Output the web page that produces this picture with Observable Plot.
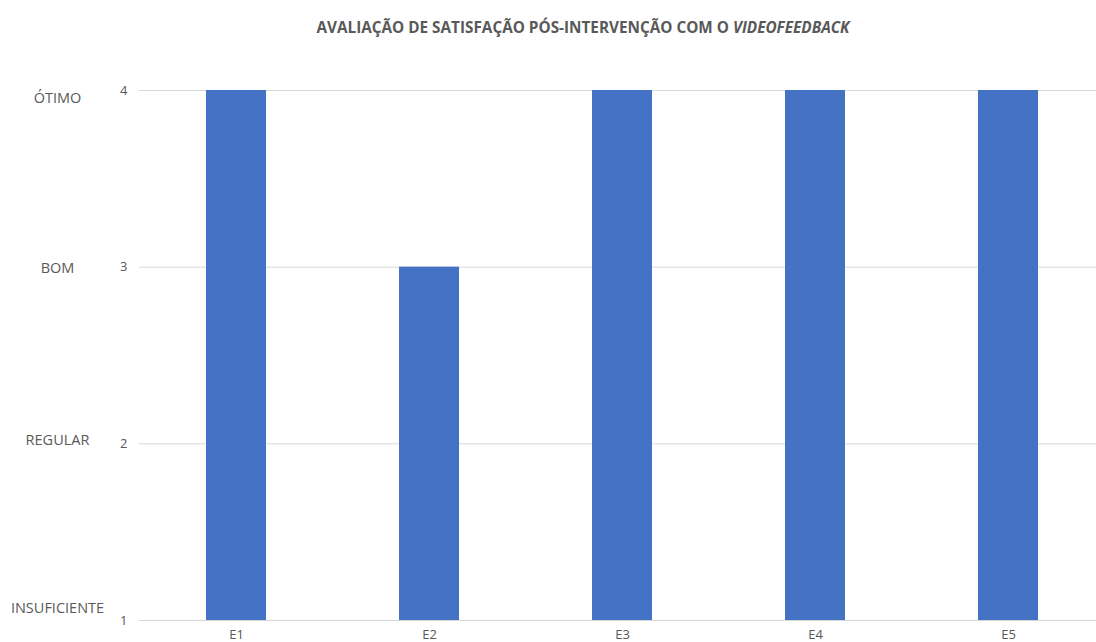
<!DOCTYPE html>
<html>
<head>
<meta charset="utf-8">
<script src="https://cdn.jsdelivr.net/npm/d3@7"></script>
<script src="https://cdn.jsdelivr.net/npm/@observablehq/plot@0.6"></script>
<style>
  html, body { margin: 0; padding: 0; background: #fff; overflow: hidden; }
  #title { height: 50px; box-sizing: border-box; padding-top: 17px; padding-left: 70px; text-align: center;
           font-family: "Open Sans", sans-serif; font-weight: 700; font-size: 15.3px; color: #595959; line-height: 20px; }
  #chart svg { display: block; overflow: visible; }
</style>
</head>
<body>
<div id="title">AVALIAÇÃO DE SATISFAÇÃO PÓS-INTERVENÇÃO COM O <i>VIDEOFEEDBACK</i></div>
<div id="chart"></div>
<script>
const categories = ["E1", "E2", "E3", "E4", "E5"];
const scores = [4, 3, 4, 4, 4];
const levelValues = [1, 2, 3, 4];
const levelNames = ["INSUFICIENTE", "REGULAR", "BOM", "ÓTIMO"];
const levelNameShift = [-12, -3, 1, 8];

const data = categories.map((c, i) => ({cat: c, score: scores[i]}));
const levels = levelValues.map((v, i) => ({v, name: levelNames[i], shift: levelNameShift[i]}));

const grey = "#595959";
const chart = Plot.plot({
  width: 1096,
  height: 592,
  marginTop: 40,
  marginBottom: 22,
  marginLeft: 139,
  marginRight: -9,
  style: {fontFamily: "'Open Sans', sans-serif", fontSize: "13px", color: grey, background: "#fff"},
  x: {domain: categories, paddingInner: 0.69, paddingOuter: 0.345, label: null},
  y: {domain: [1, 4], label: null},
  marks: [
    Plot.gridY(levelValues, {stroke: "#d9d9d9", strokeOpacity: 1, strokeWidth: 1}),
    Plot.barY(data, {x: "cat", y1: 1, y2: "score", fill: "#4472C4"}),
    Plot.axisX({tickSize: 0, tickPadding: 9, fontSize: 13, fill: grey}),
    Plot.axisY(levelValues, {tickSize: 0, tickPadding: 12, tickFormat: d3.format("d"), fontSize: 13, fill: grey}),
    ...levels.map(l => Plot.text([l], {y: "v", text: "name", frameAnchor: "left", dx: 57 - 139, dy: l.shift, textAnchor: "middle", fontSize: 14.5, fill: grey}))
  ]
});
document.getElementById("chart").appendChild(chart);
</script>
</body>
</html>
